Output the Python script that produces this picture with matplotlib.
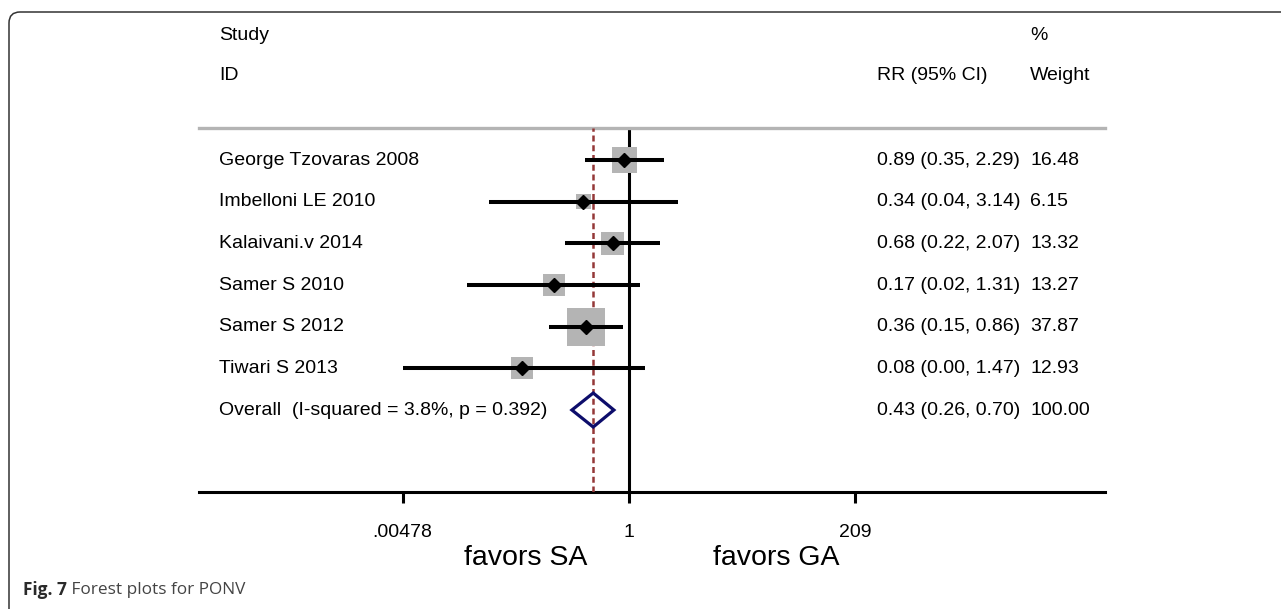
import numpy as np
import matplotlib
matplotlib.use("Agg")
import matplotlib.pyplot as plt
from matplotlib.patches import FancyBboxPatch, Polygon
from matplotlib.transforms import IdentityTransform, blended_transform_factory

plt.rcParams['font.family'] = ['Liberation Sans', 'DejaVu Sans']

# data
studies = ["George Tzovaras 2008", "Imbelloni LE 2010", "Kalaivani.v 2014",
           "Samer S 2010", "Samer S 2012", "Tiwari S 2013"]
rr = [0.89, 0.34, 0.68, 0.17, 0.36, 0.08]
ci_lo = [0.35, 0.037, 0.22, 0.022, 0.15, 0.00478]
ci_hi = [2.29, 3.14, 2.07, 1.31, 0.86, 1.47]
weights = [16.48, 6.15, 13.32, 13.27, 37.87, 12.93]
overall_rr = 0.43
overall_lo = 0.26
overall_hi = 0.70
overall_weight = 100.00
i_squared = 3.8
p_het = 0.392
xticks = [0.00478, 1, 209]
xtick_labels = [".00478", "1", "209"]

W, H = 1281, 609
fig = plt.figure(figsize=(W / 100, H / 100), dpi=100)

# axes area: x 199..1105 px, y 128..492 px (from top)
left, right, top, bottom = 199, 1105, 128, 492
ax = fig.add_axes([left / W, 1 - bottom / H, (right - left) / W, (bottom - top) / H])
ax.set_xscale('log')
px_dec = 97.6
x_one = 629
ax.set_xlim(10 ** ((left - x_one) / px_dec), 10 ** ((right - x_one) / px_dec))
row0, row_h = 160, 41.67
ax.set_ylim((bottom - row0) / row_h, (top - row0) / row_h)

for s in ['top', 'left', 'right']:
    ax.spines[s].set_visible(False)
ax.spines['bottom'].set_linewidth(2.2)
ax.set_yticks([])
ax.set_xticks(xticks)
ax.set_xticklabels(xtick_labels, fontsize=14)
ax.xaxis.set_minor_locator(matplotlib.ticker.NullLocator())
ax.tick_params(axis='x', length=8, width=2.2, pad=15)

n = len(studies)
rows = np.arange(n)
ybot, ytop = ax.get_ylim()

# reference lines
ax.plot([1, 1], [ybot, ytop], color='black', lw=2.2, zorder=2)
ax.plot([overall_rr, overall_rr], [ybot, ytop],
        color='#943838', lw=1.8, ls=(0, (2.4, 1.5)), zorder=3)
ax.axhline(ytop, color='#b4b4b4', lw=2.4, clip_on=False)

# weight boxes
side_px = 38 * np.sqrt(np.array(weights) / max(weights))
ax.scatter(rr, rows, marker='s', s=(side_px * 0.72) ** 2, color='#b4b4b4',
           edgecolors='none', zorder=4)
ax.hlines(rows, ci_lo, ci_hi, color='black', lw=2.9, zorder=5)
ax.plot(rr, rows, ls='none', marker='D', ms=7.5, color='black', zorder=6)

# overall diamond
oy = n
dh = 17 / row_h
diamond = Polygon([[overall_lo, oy], [overall_rr, oy - dh], [overall_hi, oy],
                   [overall_rr, oy + dh]], closed=True, fill=False,
                  edgecolor='#0d0d6b', lw=2.3, zorder=6)
ax.add_patch(diamond)

# text columns
tr = blended_transform_factory(fig.transFigure, ax.transData)
x_study, x_rr, x_w = 219 / W, 877 / W, 1030 / W
for i in range(n):
    ax.text(x_study, i, studies[i], transform=tr, va='center', fontsize=14)
    ax.text(x_rr, i, "%.2f (%.2f, %.2f)" % (rr[i], ci_lo[i], ci_hi[i]),
            transform=tr, va='center', fontsize=14)
    ax.text(x_w, i, "%.2f" % weights[i], transform=tr, va='center', fontsize=14)
ax.text(x_study, oy, "Overall  (I-squared = %.1f%%, p = %.3f)" % (i_squared, p_het),
        transform=tr, va='center', fontsize=14)
ax.text(x_rr, oy, "%.2f (%.2f, %.2f)" % (overall_rr, overall_lo, overall_hi),
        transform=tr, va='center', fontsize=14)
ax.text(x_w, oy, "%.2f" % overall_weight, transform=tr, va='center', fontsize=14)

# headers
fig.text(x_study, 1 - 36 / H, "Study", va='center', fontsize=14)
fig.text(x_study, 1 - 76 / H, "ID", va='center', fontsize=14)
fig.text(x_rr, 1 - 76 / H, "RR (95% CI)", va='center', fontsize=14)
fig.text(x_w, 1 - 36 / H, "%", va='center', fontsize=14)
fig.text(x_w, 1 - 76 / H, "Weight", va='center', fontsize=14)

fig.text(526 / W, 1 - 558 / H, "favors SA", ha='center', va='center', fontsize=20.5)
fig.text(776 / W, 1 - 558 / H, "favors GA", ha='center', va='center', fontsize=20.5)

# caption
t1 = fig.text(23 / W, 1 - 590 / H, "Fig. 7", fontsize=12.4, fontweight='bold',
              family=['Open Sans', 'DejaVu Sans'], color='#2a2a2a', va='center')
ax.annotate(" Forest plots for PONV", xy=(1, 0.5), xycoords=t1, va='center',
            fontsize=12.4, family=['Open Sans', 'DejaVu Sans'], color='#444444',
            annotation_clip=False)

# rounded frame
frame = FancyBboxPatch((9, -40), W + 40, H - 12 + 40,
                       boxstyle="round,pad=0,rounding_size=11",
                       transform=IdentityTransform(), fill=False,
                       edgecolor='#333333', lw=1.1)
fig.patches.append(frame)

fig.savefig("out.png", dpi=100)
